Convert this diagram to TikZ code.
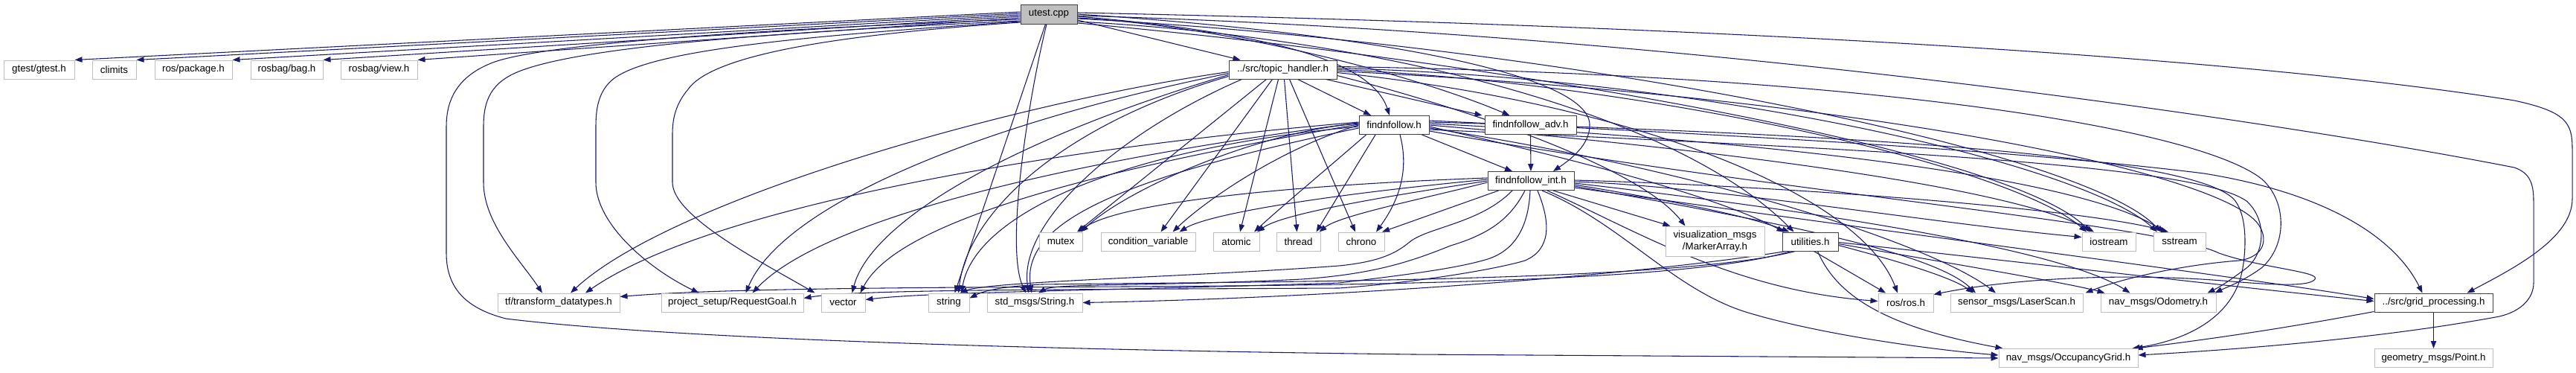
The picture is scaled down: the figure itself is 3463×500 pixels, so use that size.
\documentclass[tikz,border=0pt]{standalone}
\usepackage{fontspec}
\setmainfont{Liberation Sans}
\usetikzlibrary{arrows.meta,calc}
\pgfdeclarelayer{bg}
\pgfdeclarelayer{paper}
\pgfsetlayers{paper,bg,main}
\definecolor{edgec}{HTML}{191970}
\definecolor{extb}{HTML}{BFBFBF}
\definecolor{docb}{HTML}{404040}
\begin{document}
\begin{tikzpicture}[x=0.75pt,y=0.75pt,font=\fontsize{10}{12}\selectfont,
  box/.style={rectangle,line width=0.75pt,fill=white,inner sep=0pt,minimum height=18.75pt,align=center},
  ext/.style={box,draw=extb},
  doc/.style={box,draw=docb},
  e/.style={draw=edgec,line width=0.8pt,-{Triangle[length=7.5pt,width=5.5pt]}}]
\begin{pgfonlayer}{paper}
\fill[white] (0,0) rectangle (3463,-500);
\end{pgfonlayer}
\useasboundingbox (0,0) rectangle (3463,-500);
% ---------- nodes ----------
\node[doc,fill=extb,minimum width=57pt,minimum height=19.5pt] (U) at (1410,-19) {utest.cpp};
\node[ext,minimum width=71.25pt] (gt) at (52.5,-93.5) {gtest/gtest.h};
\node[ext,minimum width=44.25pt] (cl) at (153.5,-93.5) {climits};
\node[ext,minimum width=78pt] (rp) at (260,-93.5) {ros/package.h};
\node[ext,minimum width=72.75pt] (rb) at (385.5,-93.5) {rosbag/bag.h};
\node[ext,minimum width=77.25pt] (rv) at (509.5,-93.5) {rosbag/view.h};
\node[doc,minimum width=108.75pt] (TH) at (1724.5,-93.5) {../src/topic\_handler.h};
\node[doc,minimum width=70.5pt] (FF) at (1874,-168) {findnfollow.h};
\node[doc,minimum width=92.25pt] (FA) at (2057.5,-168) {findnfollow\_adv.h};
\node[doc,minimum width=87pt] (FI) at (2058,-243) {findnfollow\_int.h};
\node[ext,minimum width=43.5pt] (mx) at (1426,-324.5) {mutex};
\node[ext,minimum width=95.25pt] (cv) at (1543.5,-324.5) {condition\_variable};
\node[ext,minimum width=46.5pt] (atm) at (1662,-324.5) {atomic};
\node[ext,minimum width=44.25pt] (th) at (1745.5,-324.5) {thread};
\node[ext,minimum width=46.5pt] (ch) at (1830,-324.5) {chrono};
\node[ext,minimum width=99.75pt,minimum height=30pt] (vis) at (2305.5,-324) {visualization\_msgs\\/MarkerArray.h};
\node[doc,minimum width=56.25pt] (UT) at (2433.5,-324.5) {utilities.h};
\node[ext,minimum width=54pt] (io) at (2835,-324.5) {iostream};
\node[ext,minimum width=52.5pt] (ss) at (2930,-324.5) {sstream};
\node[ext,minimum width=123pt] (tf) at (751,-406.5) {tf/transform\_datatypes.h};
\node[ext,minimum width=143.25pt] (pr) at (984.5,-406.5) {project\_setup/RequestGoal.h};
\node[ext,minimum width=44.25pt] (vec) at (1133.5,-406.5) {vector};
\node[ext,minimum width=41.25pt] (str) at (1275.5,-406.5) {string};
\node[ext,minimum width=96pt] (sm) at (1391,-406.5) {std\_msgs/String.h};
\node[ext,minimum width=55.5pt] (ros) at (2562,-406.5) {ros/ros.h};
\node[ext,minimum width=133.5pt] (sen) at (2711,-406.5) {sensor\_msgs/LaserScan.h};
\node[ext,minimum width=116.25pt] (odo) at (2901.5,-406.5) {nav\_msgs/Odometry.h};
\node[doc,minimum width=119.25pt] (GP) at (3271.5,-406.5) {../src/grid\_processing.h};
\node[ext,minimum width=140.25pt] (occ) at (2780.5,-481) {nav\_msgs/OccupancyGrid.h};
\node[ext,minimum width=119.25pt] (geo) at (3271.5,-481) {geometry\_msgs/Point.h};
% ---------- edges ----------
\begin{pgfonlayer}{bg}
% utest.cpp
\draw[e] ($(U.west)+(0,3)$) -- (gt.north east);
\draw[e] ($(U.west)+(0,1)$) -- (cl.north east);
\draw[e] ($(U.west)+(0,-1)$) -- (rp.north east);
\draw[e] ($(U.west)+(0,-3)$) -- (rb.north east);
\draw[e] ($(U.west)+(0,-5)$) -- (rv.north east);
\draw[e] ($(U.east)+(0,-8)$) -- ($(TH.north)+(-57,0)$);
\draw[e] ($(U.east)+(0,-3)$) .. controls (1720,-45) and (1845,-85) .. ($(FF.north)+(-6,0)$);
\draw[e] ($(U.east)+(0,-5)$) .. controls (1650,-35) and (1900,-100) .. ($(FA.north)+(-28,0)$);
\draw[e] (U.east) .. controls (1850,-45) and (2135,-100) .. (2137,-167) .. controls (2138,-195) and (2110,-215) .. ($(FI.north)+(30,0)$);
\draw[e] ($(U.east)+(0,-10)$) .. controls (1850,-50) and (2250,-150) .. ($(UT.north)+(-22,0)$);
\draw[e] ($(U.east)+(0,2)$) .. controls (2300,-35) and (3000,-75) .. (3380,-135) .. controls (3450,-150) and (3458,-165) .. (3458,-200) -- (3458,-267) .. controls (3458,-320) and (3380,-360) .. ($(GP.north)+(45,0)$);
\draw[e] ($(U.east)+(0,-2)$) .. controls (2300,-45) and (3100,-170) .. (3380,-225) .. controls (3400,-232) and (3406,-245) .. (3406,-270) -- (3406,-380) .. controls (3406,-400) and (3390,-418) .. (3360,-425) .. controls (3200,-455) and (3000,-470) .. ($(occ.east)+(0,4)$);
\draw[e] ($(U.west)+(0,-7)$) .. controls (1000,-40) and (720,-60) .. (660,-85) .. controls (610,-105) and (600,-140) .. (600,-170) -- (600,-340) .. controls (600,-390) and (630,-415) .. (680,-428) .. controls (900,-455) and (1400,-470) .. (1900,-476) -- (occ.west);
\draw[e] ($(U.west)+(0,-9)$) .. controls (1000,-45) and (780,-65) .. (700,-95) .. controls (660,-110) and (650,-135) .. (650,-170) -- (650,-245) .. controls (650,-300) and (700,-350) .. ($(tf.north)+(-22,0)$);
\draw[e] ($(U.west)+(0,-10)$) .. controls (1050,-50) and (860,-70) .. (820,-110) .. controls (805,-125) and (801,-145) .. (801,-170) -- (801,-245) .. controls (801,-300) and (870,-360) .. ($(pr.north)+(-45,0)$);
\draw[e] ($(U.west)+(0,-11)$) .. controls (1150,-45) and (960,-70) .. (925,-120) .. controls (908,-140) and (904,-160) .. (904,-180) -- (904,-245) .. controls (904,-290) and (1020,-350) .. ($(vec.north)+(-38,0)$);
\draw[e] (U) -- ($(str.north)+(8,0)$);
\draw[e] ($(U.south)+(-3,0)$) .. controls (1385,-120) and (1350,-330) .. ($(sm.north)+(-12,0)$);
\draw[e] ($(U.east)+(0,-12)$) .. controls (2000,-80) and (2700,-200) .. ($(io.north)+(-25,0)$);
\draw[e] ($(U.east)+(0,-6)$) .. controls (2100,-60) and (2800,-200) .. ($(ss.north)+(-25,0)$);
% topic_handler.h
\draw[e] ($(TH.south)+(20,0)$) -- ($(FF.north)+(-31,0)$);
\draw[e] ($(TH.south east)+(-15,0)$) -- ($(FA.north)+(-65,0)$);
\draw[e] ($(TH.south)+(-22,0)$) -- ($(mx.north)+(22,0)$);
\draw[e] ($(TH.south)+(-14,0)$) -- ($(cv.north)+(17,0)$);
\draw[e] ($(TH.south)+(-6,0)$) -- ($(atm.north)+(5,0)$);
\draw[e] ($(TH.south)+(2,0)$) -- ($(th.north)+(-2,0)$);
\draw[e] ($(TH.south)+(9,0)$) -- ($(ch.north)+(-8,0)$);
\draw[e] ($(TH.west)+(0,-3)$) .. controls (1350,-140) and (900,-270) .. ($(tf.north)+(16,0)$);
\draw[e] ($(TH.west)+(0,-5)$) .. controls (1300,-170) and (1050,-280) .. ($(pr.north)+(18,0)$);
\draw[e] ($(TH.west)+(0,-7)$) .. controls (1350,-190) and (1170,-300) .. ($(vec.north)+(12,0)$);
\draw[e] ($(TH.west)+(0,-9)$) .. controls (1420,-170) and (1300,-290) .. ($(str.north)+(13,0)$);
\draw[e] ($(TH.south west)+(18,0)$) .. controls (1500,-180) and (1368,-300) .. ($(sm.north)+(-8,0)$);
\draw[e] ($(TH.east)+(0,-8)$) .. controls (1950,-140) and (2200,-220) .. ($(vis.north)+(-40,0)$);
\draw[e] (TH.east) .. controls (2200,-110) and (2700,-220) .. ($(io.north)+(-30,0)$);
\draw[e] ($(TH.east)+(0,2)$) .. controls (2300,-105) and (2800,-220) .. ($(ss.north)+(-30,0)$);
\draw[e] ($(TH.east)+(0,-4)$) .. controls (2200,-140) and (2500,-260) .. ($(ros.north)+(-11,0)$);
\draw[e] ($(TH.east)+(0,4)$) .. controls (2500,-100) and (2950,-170) .. (3040,-240) .. controls (3075,-270) and (3075,-330) .. (3040,-360) .. controls (3015,-378) and (2995,-385) .. ($(odo.north east)+(-2,0)$);
\draw[e] ($(TH.east)+(0,-2)$) .. controls (2500,-130) and (2980,-230) .. (3035,-300) .. controls (3050,-320) and (3045,-345) .. (3010,-350) .. controls (2930,-356) and (2850,-375) .. ($(sen.north east)+(3,0)$);
% findnfollow.h
\draw[e] ($(FF.south east)+(-10,0)$) -- ($(FI.north)+(-25,0)$);
\draw[e] ($(FF.west)+(0,2)$) .. controls (1700,-175) and (1520,-250) .. ($(mx.north)+(27,0)$);
\draw[e] (FF.west) .. controls (1720,-200) and (1620,-270) .. ($(cv.north)+(33,0)$);
\draw[e] ($(FF.south west)+(10,0)$) .. controls (1780,-230) and (1720,-280) .. ($(atm.north)+(24,0)$);
\draw[e] ($(FF.south)+(-25,0)$) -- ($(th.north)+(24,0)$);
\draw[e] ($(FF.south)+(8,0)$) .. controls (1895,-230) and (1880,-270) .. ($(ch.north)+(20,0)$);
\draw[e] ($(FF.west)+(0,4)$) .. controls (1400,-200) and (950,-280) .. ($(tf.north)+(36,0)$);
\draw[e] ($(FF.west)+(0,3)$) .. controls (1400,-220) and (1100,-300) .. ($(pr.north)+(27,0)$);
\draw[e] ($(FF.west)+(0,1)$) .. controls (1400,-240) and (1200,-310) .. ($(vec.north)+(23,0)$);
\draw[e] ($(FF.west)+(0,-2)$) .. controls (1500,-200) and (1310,-290) .. ($(str.north)+(17,0)$);
\draw[e] ($(FF.west)+(0,-4)$) .. controls (1500,-240) and (1372,-300) .. ($(sm.north)+(-4,0)$);
\draw[e] ($(FF.east)+(0,-2)$) .. controls (2100,-210) and (2300,-260) .. ($(UT.north)+(-35,0)$);
\draw[e] (FF.east) .. controls (2300,-200) and (2700,-250) .. ($(io.north)+(-20,0)$);
\draw[e] ($(FF.east)+(0,2)$) .. controls (2400,-190) and (2800,-240) .. ($(ss.north)+(-20,0)$);
\draw[e] ($(FF.east)+(0,-4)$) .. controls (2300,-230) and (2600,-330) .. ($(sen.north)+(-28,0)$);
\draw[e] ($(FF.east)+(0,4)$) .. controls (2500,-180) and (2960,-210) .. (3005,-270) .. controls (3020,-290) and (3020,-330) .. (3015,-360) .. controls (3005,-420) and (2950,-455) .. ($(occ.north east)+(-8,0)$);
\draw[e] ($(FF.east)+(0,-6)$) .. controls (2500,-200) and (2950,-220) .. (3020,-270) .. controls (3048,-295) and (3045,-340) .. (3020,-360) .. controls (3000,-375) and (2985,-385) .. ($(odo.north east)+(-12,0)$);
\draw[e] ($(FF.east)+(0,-8)$) .. controls (2400,-260) and (2900,-300) .. (2983,-340) .. controls (3040,-360) and (3120,-365) .. (3112,-375) .. controls (3105,-385) and (3060,-383) .. (3000,-378) .. controls (2850,-365) and (2700,-375) .. ($(ros.north east)+(0,-2)$);
\draw[e] ($(FF.east)+(0,6)$) .. controls (2300,-180) and (2700,-200) .. (2963,-233) .. controls (3130,-260) and (3220,-320) .. ($(GP.north)+(-15,0)$);
% findnfollow_adv.h
\draw[e] (FA) -- (FI);
% findnfollow_int.h
\draw[e] ($(FI.west)+(0,4)$) .. controls (1700,-250) and (1500,-275) .. ($(mx.north)+(24,0)$);
\draw[e] ($(FI.west)+(0,2)$) .. controls (1750,-265) and (1620,-290) .. ($(cv.north)+(42,0)$);
\draw[e] (FI.west) .. controls (1820,-270) and (1720,-290) .. ($(atm.north)+(28,0)$);
\draw[e] ($(FI.west)+(0,-2)$) .. controls (1900,-270) and (1800,-290) .. ($(th.north)+(28,0)$);
\draw[e] ($(FI.south west)+(15,0)$) -- ($(ch.north)+(28,0)$);
\draw[e] ($(FI.south)+(30,0)$) -- ($(vis.north)+(-60,0)$);
\draw[e] ($(FI.east)+(0,-5)$) .. controls (2250,-270) and (2350,-290) .. ($(UT.north)+(-28,0)$);
\draw[e] ($(FI.south)+(-25,0)$) .. controls (1990,-300) and (1920,-305) .. (1895,-325) .. controls (1875,-342) and (1850,-352) .. (1800,-357) .. controls (1600,-372) and (1330,-378) .. ($(str.north)+(15,0)$);
\draw[e] ($(FI.south)+(-8,0)$) .. controls (2030,-295) and (2000,-315) .. (1950,-330) .. controls (1900,-350) and (1850,-368) .. (1750,-375) .. controls (1550,-385) and (1420,-380) .. ($(sm.north)+(5,0)$);
\draw[e] ($(FI.south)+(-1,0)$) .. controls (2055,-300) and (2040,-335) .. (2000,-348) .. controls (1960,-360) and (1900,-368) .. (1800,-380) .. controls (1500,-390) and (1250,-392) .. ($(vec.east)+(0,4)$);
\draw[e] ($(FI.south)+(9,0)$) .. controls (2085,-300) and (2085,-335) .. (2050,-350) .. controls (2010,-362) and (1900,-380) .. (1800,-387) .. controls (1400,-389) and (1150,-389) .. ($(pr.east)+(0,6)$);
\draw[e] ($(FI.south)+(22,0)$) .. controls (2200,-310) and (2330,-390) .. ($(ros.west)+(0,2)$);
\draw[e] ($(FI.south)+(15,0)$) .. controls (2180,-300) and (2250,-390) .. (2350,-420) .. controls (2450,-450) and (2600,-470) .. ($(occ.west)+(0,4)$);
\draw[e] ($(FI.east)+(0,-7)$) .. controls (2400,-300) and (2600,-340) .. ($(sen.north)+(-55,0)$);
\draw[e] ($(FI.east)+(0,-3)$) .. controls (2500,-290) and (2780,-340) .. ($(odo.north)+(-38,0)$);
\draw[e] ($(FI.east)+(0,-1)$) .. controls (2300,-250) and (2600,-300) .. ($(io.west)+(0,6)$);
\draw[e] ($(FI.east)+(0,1)$) .. controls (2400,-250) and (2800,-280) .. ($(ss.north)+(-15,0)$);
\draw[e] ($(FI.east)+(0,-9)$) .. controls (2600,-320) and (3000,-370) .. ($(GP.west)+(0,5)$);
% utilities.h
\draw[e] ($(UT.south)+(5,0)$) -- ($(ros.north)+(-27,0)$);
\draw[e] ($(UT.east)+(0,-5)$) .. controls (2530,-345) and (2620,-370) .. ($(sen.north)+(-58,0)$);
\draw[e] ($(UT.east)+(0,-3)$) .. controls (2600,-350) and (2780,-380) .. ($(odo.north west)+(6,0)$);
\draw[e] ($(UT.east)+(0,-1)$) .. controls (2700,-350) and (3000,-385) .. ($(GP.west)+(0,2)$);
\draw[e] ($(UT.south)+(10,0)$) .. controls (2470,-400) and (2540,-440) .. ($(occ.north west)+(6,0)$);
\draw[e] ($(UT.south west)+(12,0)$) .. controls (2250,-385) and (1700,-384) .. (1300,-386) .. controls (1000,-388) and (900,-393) .. ($(tf.east)+(0,8)$);
\draw[e] ($(UT.south west)+(18,0)$) .. controls (2250,-379) and (1700,-378) .. (1400,-382) .. controls (1340,-385) and (1320,-392) .. ($(str.east)+(0,6)$);
\draw[e] ($(UT.south west)+(5,0)$) .. controls (2200,-370) and (1800,-400) .. (sm.east);
% grid_processing.h
\draw[e] (GP) -- (geo);
\draw[e] ($(GP.south west)+(0,1)$) .. controls (3050,-445) and (2950,-458) .. ($(occ.north east)+(-4,0)$);
\end{pgfonlayer}
\end{tikzpicture}
\end{document}
